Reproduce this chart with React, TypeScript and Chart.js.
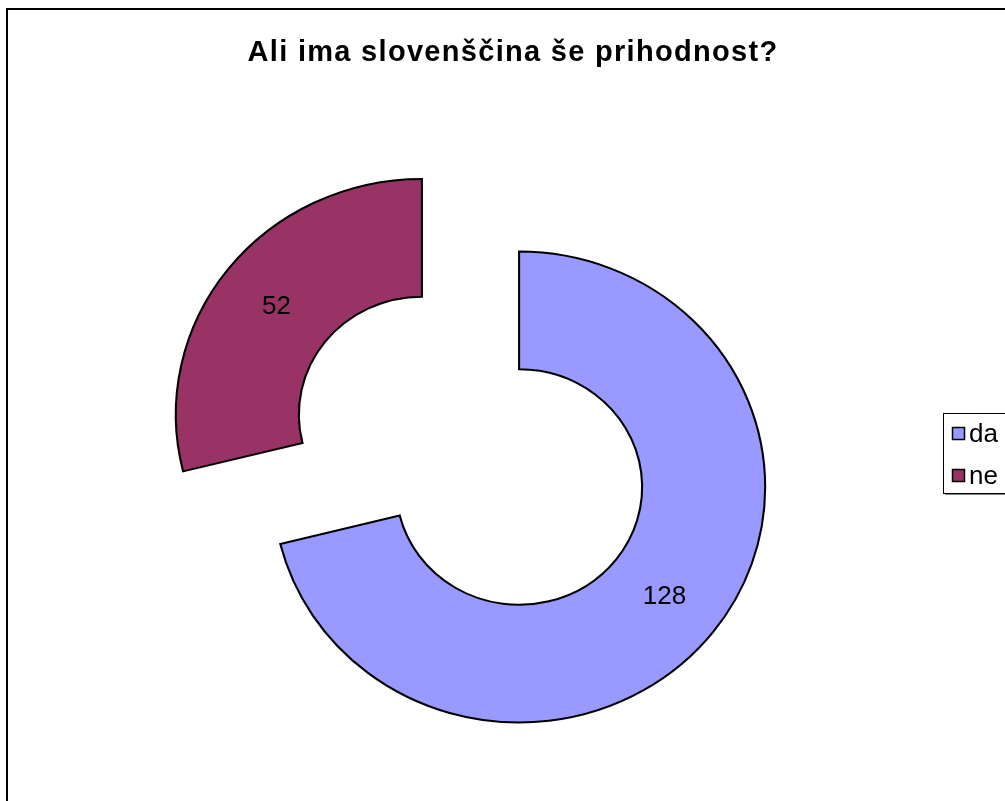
import React, { useEffect, useRef } from "react";
import { Chart, registerables } from "chart.js";

Chart.register(...registerables);

// ---- data ----
const TITLE = "Ali ima slovenščina še prihodnost?";
const categories = ["da", "ne"];
const values = [128, 52];
const colors = ["#9999FF", "#993366"];

// ---- style ----
const FONT = '"Liberation Sans", Arial, Helvetica, sans-serif';
const STRETCH_X = 1.045; // reference pie is slightly wider than tall
const EXPLODE = 59; // px each slice is pulled out along its bisector

export default function App() {
  const ref = useRef<HTMLCanvasElement>(null);

  useEffect(() => {
    const canvas = ref.current;
    if (!canvas) return;

    const centerX = (chart: any) => (chart.chartArea.left + chart.chartArea.right) / 2;

    const deco = {
      id: "deco",
      beforeDraw(chart: any) {
        const ctx = chart.ctx;
        ctx.save();
        ctx.strokeStyle = "#000";
        ctx.lineWidth = 2;
        ctx.strokeRect(7, 9, 1200, 1000);
        ctx.restore();
      },
      afterDatasetsUpdate(chart: any) {
        const meta = chart.getDatasetMeta(0);
        meta.data.forEach((el: any) => {
          const mid = (el.startAngle + el.endAngle) / 2;
          el.x += Math.cos(mid) * EXPLODE;
          el.y += Math.sin(mid) * EXPLODE;
        });
      },
      beforeDatasetsDraw(chart: any) {
        const ctx = chart.ctx;
        const cx = centerX(chart);
        ctx.save();
        ctx.translate(cx, 0);
        ctx.scale(STRETCH_X, 1);
        ctx.translate(-cx, 0);
      },
      afterDatasetsDraw(chart: any) {
        const ctx = chart.ctx;
        ctx.restore();
        const cx = centerX(chart);
        const meta = chart.getDatasetMeta(0);
        ctx.save();
        ctx.fillStyle = "#000";
        ctx.font = `26px ${FONT}`;
        ctx.textAlign = "center";
        ctx.textBaseline = "middle";
        meta.data.forEach((el: any, i: number) => {
          const p = el.tooltipPosition();
          const x = cx + (p.x - cx) * STRETCH_X;
          ctx.fillText(String(chart.data.datasets[0].data[i]), x, p.y + 1);
        });
        ctx.restore();
      },
      afterDraw(chart: any) {
        const ctx = chart.ctx;
        ctx.save();
        // title
        ctx.fillStyle = "#000";
        ctx.font = `bold 29px ${FONT}`;
        (ctx as any).letterSpacing = "1.3px";
        ctx.textAlign = "center";
        ctx.textBaseline = "alphabetic";
        ctx.fillText(TITLE, 513, 61);
        (ctx as any).letterSpacing = "0px";

        // legend box with shadow
        ctx.fillStyle = "#808080";
        ctx.fillRect(945, 415, 80, 80);
        ctx.fillStyle = "#fff";
        ctx.fillRect(943, 413, 80, 80);
        ctx.strokeStyle = "#000";
        ctx.lineWidth = 1;
        ctx.strokeRect(943.5, 413.5, 80, 80);

        const ds = chart.data.datasets[0];
        ctx.font = `26px ${FONT}`;
        ctx.textAlign = "left";
        ctx.textBaseline = "middle";
        (chart.data.labels as string[]).forEach((lab, i) => {
          const y = 434 + i * 42;
          ctx.fillStyle = ds.backgroundColor[i];
          ctx.fillRect(952.5, y - 6.5, 12, 12);
          ctx.strokeStyle = "#000";
          ctx.lineWidth = 1.5;
          ctx.strokeRect(952.5, y - 6.5, 12, 12);
          ctx.fillStyle = "#000";
          ctx.fillText(lab, 969, y + 1);
        });
        ctx.restore();
      },
    };

    const chart = new Chart(canvas, {
      type: "doughnut",
      data: {
        labels: categories,
        datasets: [
          {
            data: values,
            backgroundColor: colors,
            borderColor: "#000",
            borderWidth: 2,
            borderJoinStyle: "miter",
          } as any,
        ],
      },
      options: {
        responsive: false,
        animation: false,
        events: [],
        radius: 235.5,
        cutout: "50%",
        clip: false,
        layout: { padding: { left: 20, right: 84, top: 110, bottom: 9.5 } },
        plugins: {
          legend: { display: false },
          title: { display: false },
          tooltip: { enabled: false },
        },
      } as any,
      plugins: [deco],
    });

    return () => chart.destroy();
  }, []);

  return (
    <div
      style={{
        position: "fixed",
        left: 0,
        top: 0,
        width: 1005,
        height: 801,
        overflow: "hidden",
        background: "#fff",
      }}
    >
      <canvas ref={ref} width={1005} height={801} style={{ display: "block" }} />
    </div>
  );
}
